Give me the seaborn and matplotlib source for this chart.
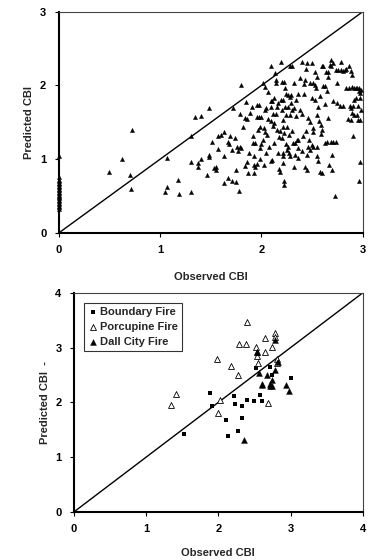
import matplotlib
matplotlib.use("Agg")
import matplotlib.pyplot as plt
import seaborn as sns
import pandas as pd
import numpy as np

# top panel: all plots, observed vs predicted CBI
obs_top = [0.50, 0.625, 0.72, 0.70, 0.71, 1.07, 1.05, 1.07, 1.18, 1.19, 1.31, 1.31, 1.34, 1.40, 1.48,
           1.31, 1.37, 1.37, 1.40, 1.46, 1.48, 1.48, 1.51, 1.53, 1.55, 1.55, 1.57, 1.60, 1.57, 1.63,
           1.63, 1.63, 1.67, 1.67, 1.68, 1.69, 1.71, 1.71, 1.72, 1.74, 1.75, 1.75, 1.76, 1.77, 1.79,
           1.78, 1.79, 1.80, 1.80, 1.82, 1.84, 1.86, 1.85, 1.84, 1.86, 1.88, 1.89, 1.92, 1.94, 1.92,
           1.91, 1.93, 1.94, 1.93, 1.96, 1.96, 1.98, 1.96, 1.98, 2.00, 1.97, 1.99, 1.99, 2.00, 2.02,
           2.04, 2.05, 2.02, 2.04, 2.03, 2.04, 2.03, 2.05, 2.06, 2.07, 2.09, 2.10, 2.09, 2.09, 2.10,
           2.11, 2.14, 2.12, 2.13, 2.14, 2.14, 2.16, 2.17, 2.17, 2.18, 2.19, 2.19, 2.21, 2.20, 2.22,
           2.20, 2.21, 2.21, 2.21, 2.21, 2.21, 2.22, 2.22, 2.23, 2.24, 2.26, 2.24, 2.24, 2.26, 2.25,
           2.27, 2.28, 2.29, 2.28, 2.30, 2.29, 2.30, 2.31, 2.33, 2.32, 2.33, 2.34, 2.35, 2.36, 2.36,
           2.38, 2.38, 2.40, 2.40, 2.42, 2.42, 2.44, 2.44, 2.45, 2.45, 2.46, 2.47, 2.48, 2.48, 2.50,
           2.50, 2.50, 2.51, 2.51, 2.51, 2.51, 2.53, 2.53, 2.53, 2.54, 2.55, 2.55, 2.55, 2.56, 2.57,
           2.59, 2.59, 2.60, 2.58, 2.60, 2.61, 2.61, 2.63, 2.64, 2.66, 2.63, 2.63, 2.65, 2.65, 2.67,
           2.68, 2.69, 2.71, 2.69, 2.69, 2.71, 2.74, 2.70, 2.70, 2.73, 2.74, 2.76, 2.75, 2.75, 2.78,
           2.79, 2.79, 2.81, 2.81, 2.83, 2.84, 2.84, 2.86, 2.85, 2.88, 2.86, 2.87, 2.88, 2.88, 2.89,
           2.89, 2.91, 2.89, 2.91, 2.90, 2.91, 2.90, 2.93, 2.94, 2.96, 2.93, 2.95, 2.94, 2.95, 2.97,
           2.96, 2.97, 2.97, 2.97, 2.96, 2.98, 2.98,
           2.07, 2.09, 2.12, 2.11, 2.15, 2.18, 2.20, 2.22, 2.25, 2.27, 2.28, 2.30, 2.32, 2.34, 2.36,
           2.26, 2.23, 2.15, 2.16, 2.12, 2.09, 2.08, 1.99, 1.93, 1.87, 2.36, 2.40, 2.41, 2.46, 2.48,
           2.55, 2.45, 2.43, 2.32, 2.28, 2.58, 2.66, 2.71, 2.66, 2.43, 2.56, 2.60]
pred_top = [0.82, 1.00, 1.40, 0.78, 0.59, 1.01, 0.56, 0.63, 0.72, 0.53, 0.56, 1.32, 1.57, 1.58, 1.69,
            0.96, 0.95, 0.89, 1.00, 0.78, 1.06, 1.03, 1.23, 0.88, 0.85, 0.90, 1.31, 1.33, 1.14, 1.37,
            1.05, 0.68, 0.74, 1.24, 1.20, 1.32, 1.13, 0.70, 1.70, 1.29, 0.86, 0.69, 1.16, 1.11, 1.16,
            0.57, 1.62, 2.00, 1.15, 1.44, 1.56, 1.55, 1.77, 0.91, 0.96, 1.08, 1.63, 1.22, 1.22, 1.32,
            1.71, 0.81, 0.90, 0.92, 0.94, 1.74, 1.74, 1.57, 1.57, 1.57, 1.40, 1.44, 1.15, 1.21, 1.26,
            1.67, 1.69, 2.03, 1.98, 1.42, 1.37, 0.92, 1.08, 1.33, 1.91, 1.79, 1.79, 2.26, 0.97, 0.99,
            1.62, 1.62, 1.22, 2.17, 2.07, 2.04, 1.08, 1.30, 0.87, 0.83, 2.32, 1.80, 1.80, 2.05, 2.05,
            1.67, 1.53, 1.44, 1.08, 1.04, 0.95, 0.70, 0.65, 1.97, 1.88, 1.87, 1.60, 1.20, 1.17, 1.13,
            1.08, 1.85, 1.87, 2.26, 2.26, 1.76, 1.38, 1.22, 1.22, 2.04, 1.06, 1.58, 1.26, 1.26, 1.02,
            2.10, 1.67, 1.62, 2.32, 2.02, 1.88, 2.23, 1.38, 1.06, 2.31, 1.56, 1.26, 2.04, 1.51, 2.31,
            1.83, 1.19, 1.17, 1.42, 1.37, 2.03, 2.01, 2.18, 1.81, 1.96, 2.12, 1.17, 1.60, 0.97, 1.52,
            1.47, 1.34, 0.81, 0.83, 2.26, 2.26, 1.99, 1.99, 2.18, 2.18, 1.75, 1.22, 1.24, 1.92, 0.92,
            2.28, 2.26, 2.30, 2.35, 1.24, 1.24, 1.24, 0.86, 1.06, 0.50, 2.21, 2.21, 2.03, 1.76, 1.72,
            2.32, 2.21, 2.19, 1.72, 2.21, 2.23, 1.97, 1.96, 1.54, 1.53, 2.26, 1.72, 1.69, 2.19, 2.14,
            1.98, 1.97, 1.63, 1.60, 1.31, 1.81, 1.72, 1.97, 1.96, 1.97, 1.83, 1.72, 1.60, 1.53, 1.53,
            1.92, 1.90, 1.83, 0.96, 0.70, 1.94, 1.67,
            1.54, 1.52, 1.49, 1.45, 1.40, 1.38, 1.29, 1.35, 1.44, 1.33, 1.60, 1.67, 1.69, 1.80, 1.89,
            1.71, 1.71, 1.71, 1.76, 1.83, 1.71, 1.17, 1.00, 1.04, 0.81, 1.15, 1.11, 1.31, 1.17, 1.12,
            1.04, 0.86, 0.90, 0.90, 1.04, 1.86, 1.56, 1.79, 2.12, 2.08, 1.71, 1.40]
# plots with observed CBI of zero
pred_zero = [0.33, 0.35, 0.37, 0.39, 0.41, 0.43, 0.45, 0.47, 0.49, 0.50, 0.52, 0.54, 0.56, 0.58,
             0.60, 0.62, 0.64, 0.66, 0.68, 0.70, 0.72, 0.76, 1.04]

# bottom panel: three fires
boundary_obs = [1.52, 1.89, 1.91, 2.11, 2.14, 2.21, 2.23, 2.27, 2.33, 2.33, 2.40, 2.50, 2.52,
                2.58, 2.61, 2.72, 2.75, 3.00]
boundary_pred = [1.43, 2.18, 1.94, 1.67, 1.39, 2.12, 1.97, 1.47, 1.93, 1.71, 2.05, 2.02, 2.62,
                 2.14, 2.03, 2.65, 2.50, 2.45]
porcupine_obs = [1.34, 1.41, 1.98, 1.99, 2.02, 2.18, 2.27, 2.29, 2.38, 2.40, 2.52, 2.54, 2.55,
                 2.64, 2.65, 2.69, 2.74, 2.79, 2.81, 2.81, 2.54, 2.79]
porcupine_pred = [1.96, 2.15, 2.79, 1.80, 2.04, 2.66, 2.50, 3.07, 3.06, 3.47, 3.01, 2.84, 2.71,
                  2.92, 3.18, 1.98, 3.01, 3.26, 2.80, 2.71, 2.92, 3.19]
dall_obs = [2.35, 2.53, 2.56, 2.60, 2.61, 2.67, 2.71, 2.72, 2.74, 2.79, 2.79, 2.82, 2.94, 2.98,
            2.74]
dall_pred = [1.31, 2.92, 2.54, 2.31, 2.34, 2.50, 2.34, 2.30, 2.40, 3.14, 2.60, 2.74, 2.31, 2.21,
             2.29]

sns.set_style("ticks")
plt.rcParams['font.family'] = ['Liberation Sans', 'DejaVu Sans']
plt.rcParams['font.weight'] = 'bold'
plt.rcParams['axes.labelweight'] = 'bold'

FS = 8

fig = plt.figure(figsize=(3.72, 5.60), dpi=100)
ax1 = fig.add_axes([0.158, 0.584, 0.817, 0.395])
ax2 = fig.add_axes([0.199, 0.086, 0.776, 0.391])

top = pd.DataFrame({'obs': obs_top + [0.0] * len(pred_zero), 'pred': pred_top + pred_zero})
sns.scatterplot(data=top, x='obs', y='pred', marker='^', s=9, color='black',
                edgecolor='black', linewidth=0.3, ax=ax1, clip_on=False, zorder=3)
ax1.plot([0, 3], [0, 3], color='black', lw=1.0)
ax1.set_xlim(0, 3)
ax1.set_ylim(0, 3)
ax1.set_xticks([0, 1, 2, 3])
ax1.set_yticks([0, 1, 2, 3])
ax1.set_xlabel('Observed CBI', fontsize=FS, labelpad=12)
ax1.set_ylabel('Predicted CBI', fontsize=FS, labelpad=4)

fires = pd.concat([
    pd.DataFrame({'obs': boundary_obs, 'pred': boundary_pred, 'fire': 'Boundary Fire'}),
    pd.DataFrame({'obs': porcupine_obs, 'pred': porcupine_pred, 'fire': 'Porcupine Fire'}),
    pd.DataFrame({'obs': dall_obs, 'pred': dall_pred, 'fire': 'Dall City Fire'}),
])
b = fires[fires.fire == 'Boundary Fire']
p = fires[fires.fire == 'Porcupine Fire']
d = fires[fires.fire == 'Dall City Fire']
sns.scatterplot(data=b, x='obs', y='pred', marker='s', s=6, color='black',
                edgecolor='black', linewidth=0, ax=ax2, label='Boundary Fire', zorder=3)
sns.scatterplot(data=p, x='obs', y='pred', marker='^', s=18, facecolor='white',
                edgecolor='black', linewidth=0.6, ax=ax2, label='Porcupine Fire', zorder=3)
sns.scatterplot(data=d, x='obs', y='pred', marker='^', s=18, color='black',
                edgecolor='black', linewidth=0.3, ax=ax2, label='Dall City Fire', zorder=4)
ax2.plot([0, 4], [0, 4], color='black', lw=1.0)
ax2.set_xlim(0, 4)
ax2.set_ylim(0, 4)
ax2.set_xticks([0, 1, 2, 3, 4])
ax2.set_yticks([0, 1, 2, 3, 4])
ax2.set_xlabel('Observed CBI', fontsize=FS, labelpad=10)
ax2.set_ylabel('Predicted CBI  -', fontsize=FS, labelpad=4)
leg = ax2.legend(loc='upper left', fontsize=FS, frameon=True, fancybox=False,
                 edgecolor='black', handletextpad=0.2, borderpad=0.35, labelspacing=0.45,
                 handlelength=0.9, borderaxespad=0.9)
leg.get_frame().set_linewidth(0.8)
for t in leg.get_texts():
    t.set_fontweight('bold')

for ax in (ax1, ax2):
    ax.tick_params(direction='out', length=3, width=0.8, labelsize=FS, pad=6, colors='black')
    for lab in ax.get_xticklabels() + ax.get_yticklabels():
        lab.set_fontweight('bold')
    for side in ('left', 'bottom'):
        ax.spines[side].set_linewidth(1.5)
        ax.spines[side].set_color('black')
    for side in ('top', 'right'):
        ax.spines[side].set_linewidth(0.8)
        ax.spines[side].set_color('#444444')

fig.savefig('out.png', dpi=100)
